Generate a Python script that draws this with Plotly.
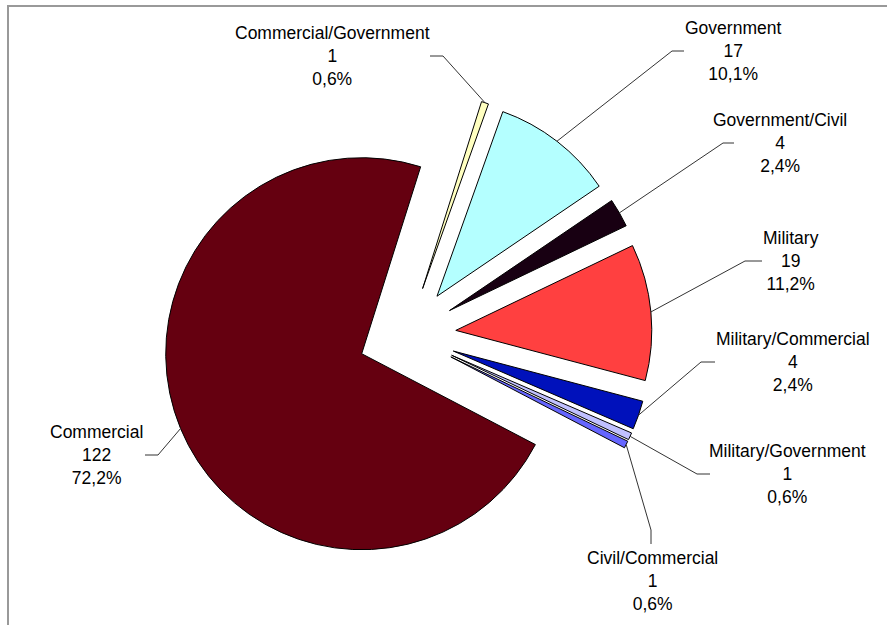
import math
import plotly.graph_objects as go

# ---- data ----
categories = ["Commercial/Government", "Government", "Government/Civil", "Military",
              "Military/Commercial", "Military/Government", "Civil/Commercial", "Commercial"]
counts = [1, 17, 4, 19, 4, 1, 1, 122]
colors = ["#FFFFC0", "#B4FFFF", "#180012", "#FF4040", "#0011BB", "#C0C0FF", "#6666FF", "#650010"]

# ---- layout constants (pixels) ----
W, H = 887, 625
CX, CY = 407, 335          # common pie centre
R = 196                    # pie radius
PULL = 0.25                # explosion, fraction of radius
ROTATION = 17.5            # start angle of first slice, degrees clockwise from 12 o'clock

# label block centre (x, y of middle line), leader elbow and leader end (pixels)
label_pos = [(332, 56), (733, 51), (780, 143), (791, 261), (793, 362), (787, 474), (652, 581), (96, 455)]
leader_elbow = [(443, 56), (672, 51), (723, 143), (745, 261), (701, 362), (697, 474), (651, 530), (158, 455)]
leader_end = [(430, 56), (684, 51), (734, 143), (762, 261), (715, 362), (710, 474), (651, 544), (145, 455)]

total = sum(counts)


def px(x):
    return x / W


def py(y):
    return 1 - y / H


half = R * (1 + PULL)
fig = go.Figure(go.Pie(
    labels=categories, values=counts, sort=False, direction="clockwise",
    rotation=ROTATION, pull=[PULL] * len(counts),
    marker=dict(colors=colors, line=dict(color="#000000", width=1)),
    textinfo="none", showlegend=False,
    domain=dict(x=[px(CX - half), px(CX + half)], y=[py(CY + half), py(CY - half)]),
))

shapes = []
annotations = []
cum = 0
for i, (cat, v) in enumerate(zip(categories, counts)):
    mid = math.radians(ROTATION + (cum + v / 2) / total * 360)
    cum += v
    ax = CX + half * math.sin(mid)
    ay = CY - half * math.cos(mid)
    ex, ey = leader_elbow[i]
    lx, ly = leader_end[i]
    shapes.append(dict(type="path", xref="paper", yref="paper",
                       path=f"M {px(ax)},{py(ay)} L {px(ex)},{py(ey)} L {px(lx)},{py(ly)}",
                       line=dict(color="#333333", width=1)))
    pct = f"{v / total * 100:.1f}".replace(".", ",")
    tx, ty = label_pos[i]
    annotations.append(dict(xref="paper", yref="paper", x=px(tx), y=py(ty),
                            xanchor="center", yanchor="middle", showarrow=False,
                            text=f"{cat}<br>{v}<br>{pct}%", align="center",
                            font=dict(size=17.5, color="#000000",
                                      family="Liberation Sans, Arial, sans-serif")))

# chart frame
shapes.append(dict(type="rect", xref="paper", yref="paper",
                   x0=px(8), x1=px(W + 20), y0=py(H + 20), y1=py(6),
                   line=dict(color="#999999", width=2)))

fig.update_layout(width=W, height=H, margin=dict(l=0, r=0, t=0, b=0),
                  paper_bgcolor="white", plot_bgcolor="white",
                  shapes=shapes, annotations=annotations)

fig.write_html("out.html", config={"displayModeBar": False},
               post_script="document.body.style.margin='0px';")
